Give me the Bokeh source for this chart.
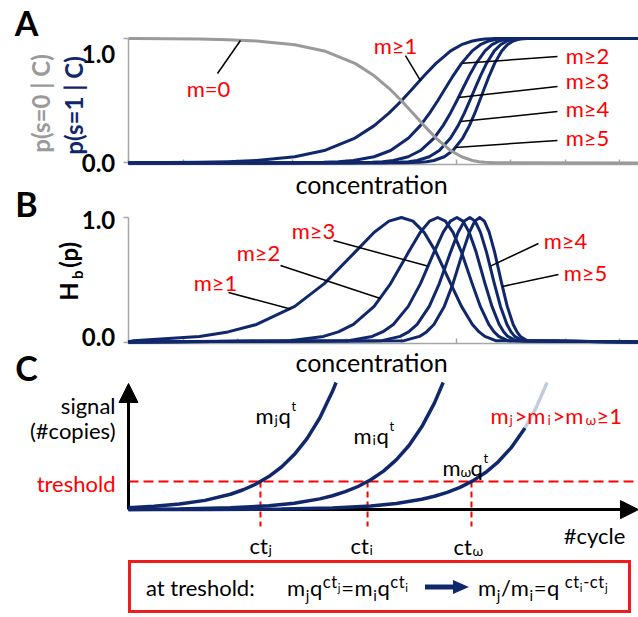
import math
from bokeh.plotting import figure
from bokeh.models import Range1d, FixedTicker, Label, Arrow, NormalHead, Div, LinearAxis
from bokeh.layouts import column
from bokeh.embed import file_html
from bokeh.resources import INLINE

NAVY = "#10286b"
GRAY = "#9a9a9a"
RED = "#ff0000"
FONT = "Lato"

# ---------------- data: panels A and B (concentration axis in tick units) ----------------
CONC_MIN, CONC_MAX = 0.0, 9.34
CONC_TICKS = [0, 1, 2, 3, 4, 5, 6, 7, 8, 9]
# probability levels at which the curves were read
P_LEVELS = [0.001, 0.005, 0.01, 0.02, 0.05, 0.1, 0.2, 0.3, 0.4, 0.5,
            0.6, 0.7, 0.8, 0.9, 0.95, 0.98, 0.99, 0.995, 0.999]
GRAY_LEVELS = [0.999, 0.995, 0.99, 0.98, 0.95, 0.9, 0.8, 0.7, 0.6, 0.5,
               0.4, 0.3, 0.2, 0.1, 0.05, 0.02, 0.01, 0.005, 0.001]
# binary entropy read at the same positions (panel B)
HB_LEVELS = [0.011, 0.045, 0.081, 0.141, 0.286, 0.469, 0.722, 0.881, 0.971, 1.0,
             0.971, 0.881, 0.722, 0.469, 0.286, 0.141, 0.081, 0.045, 0.011]
# concentration positions of each curve at those levels
X_M1 = [0.090, 1.299, 1.822, 2.346, 3.045, 3.586, 4.149, 4.501, 4.771, 5.000,
        5.210, 5.414, 5.632, 5.901, 6.099, 6.299, 6.422, 6.527, 6.726]
X_M2 = [2.954, 3.572, 3.844, 4.120, 4.499, 4.801, 5.130, 5.345, 5.515, 5.664,
        5.804, 5.945, 6.099, 6.295, 6.444, 6.599, 6.696, 6.781, 6.944]
X_M3 = [4.030, 4.462, 4.653, 4.851, 5.124, 5.348, 5.597, 5.762, 5.896, 6.014,
        6.126, 6.240, 6.367, 6.530, 6.657, 6.790, 6.874, 6.947, 7.091]
X_M4 = [4.639, 4.977, 5.130, 5.287, 5.509, 5.693, 5.899, 6.038, 6.151, 6.252,
        6.348, 6.447, 6.557, 6.701, 6.813, 6.932, 7.007, 7.074, 7.204]
X_M5 = [5.048, 5.330, 5.459, 5.594, 5.784, 5.943, 6.122, 6.244, 6.343, 6.432,
        6.518, 6.607, 6.706, 6.836, 6.937, 7.046, 7.116, 7.177, 7.298]
CURVE_NAMES = ["m\u22651", "m\u22652", "m\u22653", "m\u22654", "m\u22655"]

# ---------------- data: panel C (cycles vs signal) ----------------
T_J = [0, 2, 4, 6, 8, 9, 10, 11, 12, 13, 14, 15, 16, 16.28]
S_J = [0.071, 0.119, 0.198, 0.330, 0.549, 0.709, 0.915, 1.180, 1.523, 1.966, 2.537, 3.273, 4.224, 4.54]
T_I = [0, 4, 8, 11, 13, 15, 16, 17, 18, 19, 20, 21, 22, 23, 24, 24.68]
S_I = [0.008, 0.023, 0.065, 0.139, 0.231, 0.384, 0.496, 0.640, 0.826, 1.066, 1.375, 1.775, 2.291, 2.956, 3.814, 4.54]
T_W = [0, 6, 12, 16, 19, 21, 23, 24, 25, 26, 27, 28, 29, 30, 31.1]
S_W = [0.001, 0.005, 0.022, 0.062, 0.133, 0.222, 0.370, 0.477, 0.616, 0.795, 1.026, 1.324, 1.708, 2.205, 2.918]
T_W_FADE = [31.1, 32, 32.83]
S_W_FADE = [2.918, 3.671, 4.54]
THRESHOLD = 1.0
CT_VALUES = [10.35, 18.75, 26.9]
CYCLE_MIN, CYCLE_MAX = 0.0, 40.0
SIGNAL_TOP = 4.504

# ---------------- one canvas, three coordinate systems ----------------
p = figure(width=638, height=560, x_range=Range1d(-2.344, 9.341), y_range=Range1d(-3.193, 1.305),
           output_backend="svg", toolbar_location=None, x_axis_location=None,
           y_axis_location=None, min_border=0, min_border_left=0, min_border_right=0,
           min_border_top=0, min_border_bottom=0)
p.extra_y_ranges = {"hb": Range1d(-1.755, 2.743), "sig": Range1d(-1.817, 18.183)}
p.extra_x_ranges = {"cyc": Range1d(-10.04, 40.0)}
p.outline_line_color = None
p.grid.visible = False

A = dict(x_range_name="default", y_range_name="default")
B = dict(x_range_name="default", y_range_name="hb")
C = dict(x_range_name="cyc", y_range_name="sig")


def label(rn, x, y, text, size=22, color="black", style="normal", align="center",
          baseline="middle", angle=0.0, font=FONT):
    p.add_layout(Label(x=x, y=y, text=text, text_font=font, text_font_size=f"{size}px",
                       text_color=color, text_font_style=style, text_align=align,
                       text_baseline=baseline, angle=angle, **rn))


def leader(rn, x0, y0, x1, y1, color="black", width=1.5, dash="solid", level="annotation"):
    p.add_layout(Arrow(start=None, end=None, x_start=x0, y_start=y0, x_end=x1, y_end=y1,
                       line_color=color, line_width=width, line_dash=dash, level=level, **rn))


def panel_axes(rn):
    common = dict(axis_line_color="#a6a6a6", axis_line_width=1.5,
                  major_tick_line_color="#a6a6a6", major_tick_line_width=1.5,
                  minor_tick_line_color=None, major_label_text_color=None,
                  major_label_text_font_size="1px", level="underlay", **rn)
    xax = LinearAxis(fixed_location=-0.012, bounds=(CONC_MIN, CONC_MAX),
                     ticker=FixedTicker(ticks=CONC_TICKS), major_tick_in=5,
                     major_tick_out=0, **common)
    yax = LinearAxis(fixed_location=CONC_MIN, bounds=(0, 1), ticker=FixedTicker(ticks=[0, 1]),
                     major_tick_in=0, major_tick_out=5, **common)
    p.add_layout(xax, "below")
    p.add_layout(yax, "left")


# ================= Panel A =================
panel_axes(A)
for xs in (X_M1, X_M2, X_M3, X_M4, X_M5):
    p.line([CONC_MIN] + xs + [CONC_MAX], [0.0] + P_LEVELS + [1.0],
           line_color=NAVY, line_width=3, line_join="round", **A)
p.line([CONC_MIN] + X_M1 + [CONC_MAX], [1.0] + GRAY_LEVELS + [0.0],
       line_color=GRAY, line_width=3, line_join="round", **A)

label(A, -1.868, 1.128, "A", size=34, style="bold")
label(A, -0.549, 0.879, "1.0", size=24, style="bold")
label(A, -0.549, 0.0, "0.0", size=24, style="bold")
label(A, -1.612, 0.478, "p(s=0 | C)", size=24, color=GRAY, style="bold", angle=math.pi / 2)
label(A, -1.007, 0.462, "p(s=1 | C)", size=24, color=NAVY, style="bold", angle=math.pi / 2)
label(A, 4.451, -0.165, "concentration", size=25)

label(A, 1.465, 0.598, "m=0", color=RED)
leader(A, 1.630, 0.719, 2.051, 0.984)
label(A, 4.890, 0.944, CURVE_NAMES[0], color=RED)
leader(A, 5.073, 0.863, 5.348, 0.662)
a_lab_y = [0.863, 0.662, 0.438, 0.205]
a_lead = [(0.855, 6.12, 0.80), (0.614, 6.044, 0.526), (0.413, 6.081, 0.333), (0.181, 5.99, 0.125)]
for name, ly, (y0, x1, y1) in zip(CURVE_NAMES[1:], a_lab_y, a_lead):
    label(A, 8.407, ly, name, color=RED)
    leader(A, 7.857, y0, x1, y1)

# ================= Panel B =================
panel_axes(B)
for xs in (X_M1, X_M2, X_M3, X_M4, X_M5):
    p.line([CONC_MIN] + xs + [CONC_MAX], [0.0] + HB_LEVELS + [0.0],
           line_color=NAVY, line_width=3, line_join="round", **B)

label(B, -1.868, 1.112, "B", size=34, style="bold")
label(B, -0.549, 0.976, "1.0", size=24, style="bold")
label(B, -0.549, 0.044, "0.0", size=24, style="bold")
label(B, -1.099, 0.405, "H", size=24, style="bold", angle=math.pi / 2)
label(B, -0.952, 0.540, "b", size=15, style="bold", angle=math.pi / 2)
label(B, -1.099, 0.700, "(p)", size=24, style="bold", angle=math.pi / 2)
label(B, 4.451, -0.157, "concentration", size=25)

b_lab = [(1.593, 0.478), (2.381, 0.719), (3.388, 0.895), (8.004, 0.815), (8.370, 0.558)]
b_lead = [(1.832, 0.397, 2.967, 0.265), (2.784, 0.614, 4.615, 0.35),
          (3.755, 0.815, 5.476, 0.61), (7.509, 0.791, 6.63, 0.61),
          (7.875, 0.542, 6.85, 0.446)]
for name, (lx, ly), seg in zip(CURVE_NAMES, b_lab, b_lead):
    label(B, lx, ly, name, color=RED)
    leader(B, *seg)

# ================= Panel C =================
label(C, -8.0, 5.076, "C", size=34, style="bold")
leader(C, CYCLE_MIN, THRESHOLD, CYCLE_MAX, THRESHOLD, color=RED, width=2, dash="10 5",
       level="underlay")
for ct in CT_VALUES:
    leader(C, ct, THRESHOLD, ct, -0.6, color=RED, width=2, dash="6 4", level="underlay")

p.add_layout(Arrow(start=None, end=NormalHead(size=19, fill_color="black", line_color="black"),
                   x_start=CYCLE_MIN, y_start=0, x_end=CYCLE_MIN, y_end=SIGNAL_TOP,
                   line_color="black", line_width=3, level="underlay", **C))
p.add_layout(Arrow(start=None, end=NormalHead(size=18, fill_color="black", line_color="black"),
                   x_start=CYCLE_MIN, y_start=0, x_end=CYCLE_MAX, y_end=0, line_color="black",
                   line_width=3, level="underlay", **C))

p.line(T_J, S_J, line_color=NAVY, line_width=3.5, **C)
p.line(T_I, S_I, line_color=NAVY, line_width=3.5, **C)
p.line(T_W, S_W, line_color=NAVY, line_width=3.5, **C)
p.line(T_W_FADE, S_W_FADE, line_color="#c3cbdd", line_width=3.5, **C)

label(C, -1.02, 3.719, "signal", align="right")
label(C, -1.02, 2.826, "(#copies)", align="right")
label(C, -1.02, 0.933, "treshold", color=RED, align="right")
label(C, 36.55, -0.924, "#cycle")


def formula(parts):
    for x, y, text, size, color in parts:
        label(C, x, y, text, size=size, color=color, align="left", baseline="alphabetic")


formula([(9.96, 3.361, "m", 22, "black"), (11.45, 3.219, "j", 14, "black"),
         (11.76, 3.361, "q", 22, "black"), (12.78, 3.69, "t", 13, "black")])
formula([(17.65, 2.647, "m", 22, "black"), (19.14, 2.504, "i", 14, "black"),
         (19.45, 2.647, "q", 22, "black"), (20.47, 2.97, "t", 13, "black")])
formula([(24.63, 1.504, "m", 22, "black"), (26.04, 1.361, "\u03c9", 14, "black"),
         (26.82, 1.504, "q", 22, "black"), (27.84, 1.83, "t", 13, "black")])
formula([(28.39, 3.361, "m", 22, RED), (29.88, 3.219, "j", 14, RED),
         (30.27, 3.361, ">m", 22, RED), (32.86, 3.219, "i", 14, RED),
         (33.25, 3.361, ">m", 22, RED), (35.84, 3.219, "\u03c9", 14, RED),
         (36.71, 3.361, "\u22651", 22, RED)])
formula([(9.49, -1.281, "ct", 22, "black"), (10.98, -1.424, "j", 14, "black"),
         (17.41, -1.281, "ct", 22, "black"), (18.90, -1.424, "i", 14, "black"),
         (25.49, -1.317, "ct", 22, "black"), (26.98, -1.46, "\u03c9", 14, "black")])

# ================= equation box =================
sub = lambda t: f'<sub style="font-size:0.68em;line-height:0">{t}</sub>'
sup = lambda t: f'<sup style="font-size:0.75em;line-height:0">{t}</sup>'
piece = 'position:absolute;top:12px;line-height:26px;letter-spacing:0.6px;'
arrow_svg = ('<svg width="44" height="14" style="position:absolute;left:294px;top:17px">'
             f'<line x1="0" y1="7" x2="30" y2="7" stroke="{NAVY}" stroke-width="5"/>'
             f'<polygon points="28,0 44,7 28,14" fill="{NAVY}"/></svg>')
box_html = (
    '<div style="position:relative;box-sizing:border-box;width:503px;height:53px;'
    'border:3px solid #ee1c1c;font-family:Lato;font-size:22px;color:#000;white-space:nowrap;">'
    f'<span style="{piece}left:15px;letter-spacing:0">at treshold:</span>'
    f'<span style="{piece}left:156px">m' + sub('j') + 'q' + sup('ct' + sub('j'))
    + '=m' + sub('i') + 'q' + sup('ct' + sub('i')) + '</span>'
    + arrow_svg
    + f'<span style="{piece}left:347px">m' + sub('j') + '/m' + sub('i') + '=q'
    + sup('&nbsp;ct' + sub('i') + '-ct' + sub('j')) + '</span></div>'
)
box = Div(text=box_html, width=503, height=53, margin=(0, 0, 0, 128))

layout = column(p, box, spacing=0)
open("out.html", "w").write(file_html(layout, INLINE))
